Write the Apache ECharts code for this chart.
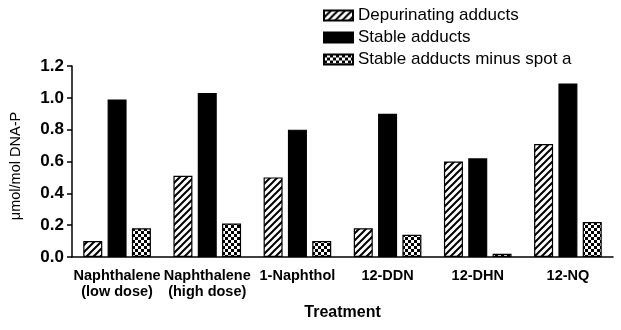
<!DOCTYPE html>
<html>
<head>
<meta charset="utf-8">
<script src="https://cdn.jsdelivr.net/npm/echarts@6/dist/echarts.min.js"></script>
<style>
  html, body { margin: 0; padding: 0; background: #fff; }
  #chart { width: 621px; height: 330px; }
</style>
</head>
<body>
<div id="chart"></div>
<script>
const categories = ["Naphthalene\n(low dose)", "Naphthalene\n(high dose)", "1-Naphthol", "12-DDN", "12-DHN", "12-NQ"];
const depurinating = [0.10, 0.51, 0.50, 0.18, 0.60, 0.71];
const stable = [0.99, 1.03, 0.80, 0.90, 0.62, 1.09];
const stableMinusA = [0.18, 0.21, 0.10, 0.14, 0.02, 0.22];
const yTicks = ["0.0", "0.2", "0.4", "0.6", "0.8", "1.0", "1.2"];

// hatch pattern: diagonal "/" lines
function hatchPattern() {
  const c = document.createElement("canvas");
  c.width = 7; c.height = 7;
  const g = c.getContext("2d");
  g.fillStyle = "#fff";
  g.fillRect(0, 0, 7, 7);
  g.strokeStyle = "#000";
  g.lineWidth = 2;
  g.beginPath();
  g.moveTo(-1, 8); g.lineTo(8, -1);
  g.moveTo(-8, 8); g.lineTo(1, -1);
  g.moveTo(6, 8); g.lineTo(15, -1);
  g.stroke();
  return c;
}

// checkerboard pattern
function checkPattern() {
  const c = document.createElement("canvas");
  c.width = 6; c.height = 6;
  const g = c.getContext("2d");
  g.fillStyle = "#fff";
  g.fillRect(0, 0, 6, 6);
  g.fillStyle = "#000";
  g.fillRect(0, 0, 3, 3);
  g.fillRect(3, 3, 3, 3);
  return c;
}

const chart = echarts.init(document.getElementById("chart"));
const font = "Liberation Sans, Arial, sans-serif";

const option = {
  animation: false,
  textStyle: { fontFamily: font, color: "#000" },
  legend: {
    orient: "vertical",
    left: 323,
    top: 7,
    padding: 0,
    itemWidth: 29,
    itemHeight: 10,
    itemGap: 5,
    icon: "rect",
    textStyle: { fontSize: 17, color: "#000", fontFamily: font },
    data: ["Depurinating adducts", "Stable adducts", "Stable adducts minus spot a"],
  },
  grid: { left: 68, right: 8, top: 66, bottom: 73 },
  xAxis: {
    type: "category",
    data: categories,
    name: "Treatment",
    nameLocation: "middle",
    nameGap: 48,
    nameTextStyle: { fontSize: 16, fontWeight: "bold", color: "#000" },
    axisLine: { lineStyle: { color: "#000", width: 1.5 } },
    axisTick: { alignWithLabel: true, length: 5, lineStyle: { color: "#000", width: 1.5 } },
    axisLabel: {
      interval: 0,
      fontSize: 14.5,
      fontWeight: "bold",
      color: "#000",
      margin: 11,
      lineHeight: 16,
    },
  },
  yAxis: {
    type: "value",
    min: 0,
    max: 1.2,
    interval: 0.2,
    name: "μmol/mol DNA-P",
    nameLocation: "middle",
    nameGap: 49,
    nameTextStyle: { fontSize: 14.5, color: "#000", padding: [0, 9, 0, 0] },
    splitLine: { show: false },
    axisLine: { show: true, lineStyle: { color: "#000", width: 1.5 } },
    axisTick: { show: true, length: 5, lineStyle: { color: "#000", width: 1.5 } },
    axisLabel: {
      fontSize: 17,
      fontWeight: "bold",
      color: "#000",
      margin: 8,
      formatter: (v) => yTicks[Math.round(v / 0.2)],
    },
  },
  series: [
    {
      name: "Depurinating adducts",
      type: "bar",
      data: depurinating,
      barWidth: 19,
      barGap: "28%",
      itemStyle: { color: { image: hatchPattern(), repeat: "repeat" }, borderColor: "#000", borderWidth: 1.2 },
    },
    {
      name: "Stable adducts",
      type: "bar",
      data: stable,
      barWidth: 19,
      barGap: "28%",
      itemStyle: { color: "#000", borderColor: "#000", borderWidth: 1.2 },
    },
    {
      name: "Stable adducts minus spot a",
      type: "bar",
      data: stableMinusA,
      barWidth: 19,
      barGap: "28%",
      itemStyle: { color: { image: checkPattern(), repeat: "repeat" }, borderColor: "#000", borderWidth: 1.2 },
    },
  ],
};

chart.setOption(option);
</script>
</body>
</html>
